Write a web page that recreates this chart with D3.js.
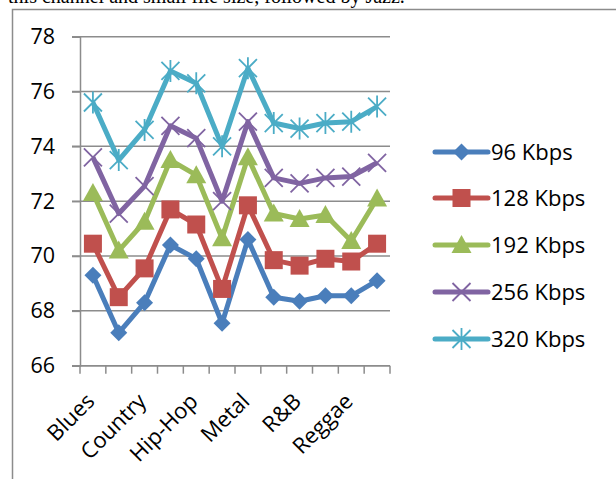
<!DOCTYPE html>
<html><head><meta charset="utf-8">
<script src="https://cdn.jsdelivr.net/npm/d3@7"></script>
<style>body{margin:0;background:#fff;overflow:hidden}</style></head><body>
<svg id="c" width="616" height="479"></svg>
<script>
const categories = ["Blues","Classical","Country","Disco","Hip-Hop","Jazz","Metal","Pop","R&B","Rap","Reggae","Rock"];
const shownLabels = ["Blues","Country","Hip-Hop","Metal","R&B","Reggae"];
const s96  = [69.3,67.2,68.3,70.4,69.9,67.55,70.6,68.5,68.35,68.55,68.55,69.1];
const s128 = [70.45,68.5,69.55,71.7,71.15,68.8,71.85,69.85,69.65,69.9,69.8,70.45];
const s192 = [72.3,70.2,71.25,73.5,72.95,70.65,73.6,71.55,71.35,71.5,70.55,72.1];
const s256 = [73.6,71.55,72.55,74.75,74.3,72.0,74.9,72.85,72.65,72.85,72.9,73.4];
const s320 = [75.6,73.5,74.6,76.75,76.3,74.0,76.85,74.85,74.65,74.85,74.9,75.45];
const seriesNames = ["96 Kbps","128 Kbps","192 Kbps","256 Kbps","320 Kbps"];
const yTicks = [66,68,70,72,74,76,78];
const captionText = "this channel and small file size, followed by Jazz.";

const seriesValues = [s96,s128,s192,s256,s320];
const colors = ["#4A7EBB","#C0504D","#9BBB59","#8064A2","#4BACC6"];
const markerTypes = ["diamond","square","triangle","x","star"];

const svg = d3.select("#c");
const L = 80, R = 390, T = 36.7, B = 365.7;
const x = d3.scaleBand().domain(categories).range([L,R]);
const y = d3.scaleLinear().domain([66,78]).range([B,T]);
const font = "'Open Sans', sans-serif";

// caption (cut off at top, as in the source page)
const cap = svg.append("text").attr("x",8).attr("y",2.5)
  .attr("font-family","'Liberation Serif', 'Times New Roman', serif")
  .attr("font-size",19).attr("fill","#000").text(captionText);
const cw = cap.node().getComputedTextLength();
cap.attr("font-size", 19*397/cw);

// frame
svg.append("path").attr("d","M12.5,490 V9.5 H630")
  .attr("fill","none").attr("stroke","#8c8c8c").attr("stroke-width",1.5);

// gridlines
svg.append("g").selectAll("line").data(yTicks).join("line")
  .attr("x1",L-8).attr("x2",R).attr("y1",d=>y(d)).attr("y2",d=>y(d))
  .attr("stroke","#8c8c8c").attr("stroke-width",1.5);

// y axis
const ya = svg.append("g").attr("transform",`translate(${L},0)`)
  .call(d3.axisLeft(y).tickValues(yTicks).tickSize(8).tickPadding(17).tickFormat(d3.format("d")));
ya.select(".domain").attr("stroke","#8c8c8c").attr("stroke-width",1.5);
ya.selectAll(".tick line").attr("stroke","#8c8c8c").attr("stroke-width",1.5);
ya.selectAll("text").attr("font-family",font).attr("font-size",21.5).attr("fill","#000");

// x axis
svg.append("line").attr("x1",L).attr("x2",R).attr("y1",B).attr("y2",B)
  .attr("stroke","#8c8c8c").attr("stroke-width",1.5);
const bounds = categories.map(c=>x(c)).concat([x(categories[categories.length-1])+x.bandwidth()]);
svg.append("g").selectAll("line").data(bounds).join("line")
  .attr("x1",d=>d).attr("x2",d=>d).attr("y1",B).attr("y2",B+8)
  .attr("stroke","#8c8c8c").attr("stroke-width",1.5);
svg.append("g").selectAll("text").data(shownLabels).join("text")
  .attr("transform",d=>`translate(${x(d)+x.bandwidth()/2+3},${B+37}) rotate(-45)`)
  .attr("text-anchor","end").attr("font-family",font).attr("font-size",22).attr("fill","#000")
  .text(d=>d);

function marker(g, type, color, cx, cy){
  if(type==="diamond"){
    g.append("path").attr("d",`M${cx},${cy-8.5}L${cx+8.5},${cy}L${cx},${cy+8.5}L${cx-8.5},${cy}Z`).attr("fill",color);
  } else if(type==="square"){
    g.append("rect").attr("x",cx-9).attr("y",cy-9).attr("width",18).attr("height",18).attr("fill",color);
  } else if(type==="triangle"){
    g.append("path").attr("d",`M${cx},${cy-10}L${cx+10},${cy+8}L${cx-10},${cy+8}Z`).attr("fill",color);
  } else if(type==="x"){
    g.append("path").attr("d",`M${cx-9},${cy-9}L${cx+9},${cy+9}M${cx+9},${cy-9}L${cx-9},${cy+9}`)
      .attr("stroke",color).attr("stroke-width",1.8).attr("fill","none");
  } else {
    g.append("path").attr("d",`M${cx-9},${cy-9}L${cx+9},${cy+9}M${cx+9},${cy-9}L${cx-9},${cy+9}M${cx},${cy-11}L${cx},${cy+11}`)
      .attr("stroke",color).attr("stroke-width",1.8).attr("fill","none");
  }
}

const line = d3.line().x((d,i)=>x(categories[i])+x.bandwidth()/2).y(d=>y(d));
seriesValues.forEach((vals,si)=>{
  const g = svg.append("g");
  g.append("path").attr("d",line(vals)).attr("fill","none")
    .attr("stroke",colors[si]).attr("stroke-width",5).attr("stroke-linejoin","round");
  vals.forEach((v,i)=>marker(g, markerTypes[si], colors[si], x(categories[i])+x.bandwidth()/2, y(v)));
});

// legend
const legY = [152,198,245,292,339];
seriesNames.forEach((n,si)=>{
  const g = svg.append("g");
  g.append("line").attr("x1",435).attr("x2",488).attr("y1",legY[si]).attr("y2",legY[si])
    .attr("stroke",colors[si]).attr("stroke-width",5).attr("stroke-linecap","round");
  marker(g, markerTypes[si], colors[si], 461.5, legY[si]);
  g.append("text").attr("x",491).attr("y",legY[si]).attr("dy","0.35em")
    .attr("font-family",font).attr("font-size",22).attr("fill","#000").text(n);
});
</script></body></html>
